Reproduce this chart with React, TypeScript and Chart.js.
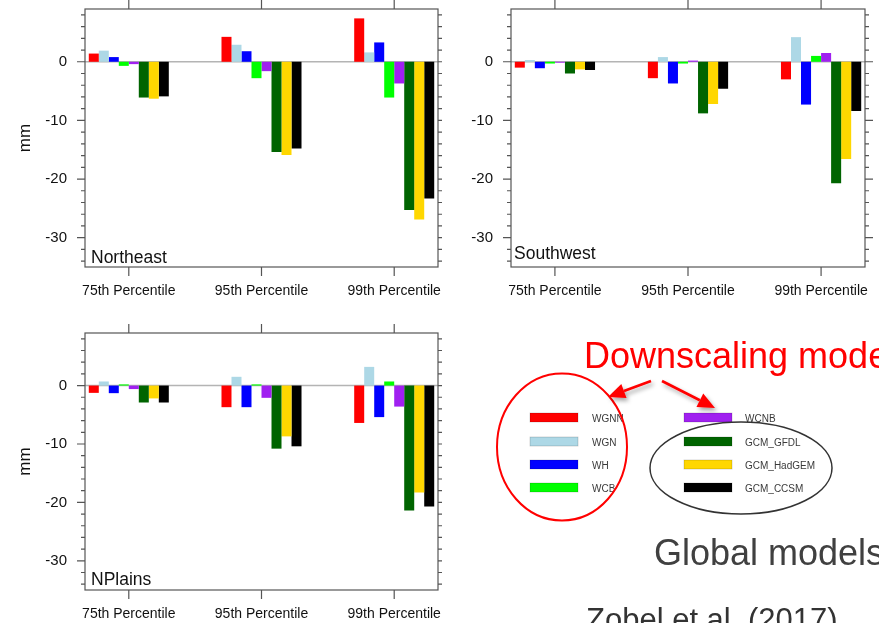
import React, { useEffect, useRef } from 'react';
import { Chart, registerables } from 'chart.js';

Chart.register(...registerables);
Chart.defaults.font.family = '"Liberation Sans", Arial, Helvetica, sans-serif';

// ---------- data ----------
const percentiles = ['75th Percentile', '95th Percentile', '99th Percentile'];
const percentilePositions = [1, 2, 3];

const seriesNames = ['WGNN', 'WGN', 'WH', 'WCB', 'WCNB', 'GCM_GFDL', 'GCM_HadGEM', 'GCM_CCSM'];
const seriesColors = ['#FF0000', '#ADD8E6', '#0000FF', '#00FF00', '#A020F0', '#006400', '#FFD700', '#000000'];

// rows = series (same order as seriesNames), columns = percentiles
const northeastValues = [
  [1.4, 4.25, 7.4],
  [1.9, 2.9, 1.6],
  [0.8, 1.8, 3.3],
  [-0.7, -2.8, -6.1],
  [-0.4, -1.6, -3.7],
  [-6.1, -15.4, -25.3],
  [-6.3, -15.9, -26.9],
  [-5.9, -14.8, -23.3],
];
const southwestValues = [
  [-1.0, -2.8, -3.0],
  [0.3, 0.8, 4.2],
  [-1.1, -3.7, -7.3],
  [-0.3, -0.3, 1.0],
  [-0.15, 0.2, 1.5],
  [-2.0, -8.8, -20.7],
  [-1.3, -7.2, -16.6],
  [-1.4, -4.6, -8.4],
];
const nplainsValues = [
  [-1.25, -3.7, -6.4],
  [0.7, 1.5, 3.2],
  [-1.3, -3.7, -5.4],
  [0.2, 0.2, 0.7],
  [-0.6, -2.1, -3.6],
  [-2.9, -10.8, -21.4],
  [-2.2, -8.7, -18.3],
  [-2.9, -10.4, -20.7],
];

const yMin = -35;
const yMax = 9;
const xMin = 0.67;
const xMax = 3.33;
const yLabelTicks = [-30, -20, -10, 0];
const yMinorTicks = [-34, -32, -30, -28, -26, -24, -22, -20, -18, -16, -14, -12, -10, -8, -6, -4, -2, 0, 2, 4, 6, 8];

const FONT = '"Liberation Sans", Arial, Helvetica, sans-serif';

type PanelProps = {
  left: number; top: number; width: number; height: number;
  chartLeft: number; chartRight: number; chartTop: number; chartBottom: number;
  values: number[][]; label: string; labelDx: number; labelDy: number; showTitle: boolean;
};

function Panel(p: PanelProps) {
  const ref = useRef<HTMLCanvasElement>(null);
  useEffect(() => {
    const framePlugin = {
      id: 'frame',
      beforeDatasetsDraw(chart: any) {
        const { ctx, chartArea: a, scales } = chart;
        const y0 = scales.y.getPixelForValue(0);
        ctx.save();
        ctx.strokeStyle = '#b4b4b4';
        ctx.lineWidth = 1.5;
        ctx.beginPath();
        ctx.moveTo(a.left, y0);
        ctx.lineTo(a.right, y0);
        ctx.stroke();
        ctx.restore();
      },
      afterDatasetsDraw(chart: any) {
        const { ctx, chartArea: a, scales } = chart;
        const x = scales.x, y = scales.y;
        ctx.save();
        ctx.strokeStyle = '#555';
        ctx.lineWidth = 1.2;
        ctx.strokeRect(a.left, a.top, a.right - a.left, a.bottom - a.top);
        ctx.beginPath();
        for (const v of yMinorTicks) {
          const py = y.getPixelForValue(v);
          ctx.moveTo(a.left - 4, py); ctx.lineTo(a.left, py);
          ctx.moveTo(a.right, py); ctx.lineTo(a.right + 4, py);
        }
        for (const v of yLabelTicks) {
          const py = y.getPixelForValue(v);
          ctx.moveTo(a.left - 8, py); ctx.lineTo(a.left, py);
          ctx.moveTo(a.right, py); ctx.lineTo(a.right + 8, py);
        }
        for (const v of percentilePositions) {
          const px = x.getPixelForValue(v);
          ctx.moveTo(px, a.top - 9); ctx.lineTo(px, a.top);
          ctx.moveTo(px, a.bottom); ctx.lineTo(px, a.bottom + 9);
        }
        ctx.stroke();
        ctx.font = `17.5px ${FONT}`;
        ctx.fillStyle = '#111';
        ctx.textBaseline = 'alphabetic';
        ctx.textAlign = 'left';
        ctx.fillText(p.label, a.left + p.labelDx, a.bottom - p.labelDy);
        ctx.restore();
      },
    };

    const zeroPad = (s: any) => {
      s.paddingLeft = 0; s.paddingRight = 0; s.paddingTop = 0; s.paddingBottom = 0;
    };

    const chart = new Chart(ref.current as HTMLCanvasElement, {
      type: 'bar',
      data: {
        datasets: seriesNames.map((name, i) => ({
          label: name,
          data: percentilePositions.map((xv, j) => ({ x: xv, y: p.values[i][j] })),
          backgroundColor: seriesColors[i],
          borderWidth: 0,
          categoryPercentage: 0.603,
          barPercentage: 1,
        })),
      },
      options: {
        responsive: false,
        animation: false,
        devicePixelRatio: 1,
        layout: { padding: { top: p.chartTop, right: p.width - p.chartRight, left: 0, bottom: 0 } },
        plugins: { legend: { display: false }, tooltip: { enabled: false } },
        scales: {
          x: {
            type: 'linear',
            min: xMin,
            max: xMax,
            bounds: 'data',
            offset: false,
            grid: { display: false, drawTicks: false },
            border: { display: false },
            afterBuildTicks: (s: any) => { s.ticks = percentilePositions.map((v) => ({ value: v })); },
            afterFit: (s: any) => { s.height = p.height - p.chartBottom; zeroPad(s); },
            ticks: {
              autoSkip: false,
              maxRotation: 0,
              minRotation: 0,
              padding: 16,
              color: '#111',
              font: { size: 14 },
              callback: (v: any) => percentiles[percentilePositions.indexOf(Number(v))] ?? '',
            },
          },
          y: {
            type: 'linear',
            min: yMin,
            max: yMax,
            bounds: 'data',
            grid: { display: false, drawTicks: false },
            border: { display: false },
            afterBuildTicks: (s: any) => { s.ticks = yLabelTicks.map((v) => ({ value: v })); },
            afterFit: (s: any) => { s.width = p.chartLeft; zeroPad(s); },
            ticks: { autoSkip: false, padding: 18, color: '#111', font: { size: 15 } },
            title: {
              display: p.showTitle,
              text: 'mm',
              color: '#111',
              font: { size: 17 },
              padding: { top: 15, bottom: 0 },
            },
          },
        },
      } as any,
      plugins: [framePlugin],
    });
    return () => chart.destroy();
  }, []);
  return (
    <canvas
      ref={ref}
      width={p.width}
      height={p.height}
      style={{ position: 'absolute', left: p.left, top: p.top, width: p.width, height: p.height }}
    />
  );
}

function Arrow({ x1, y1, x2, y2 }: { x1: number; y1: number; x2: number; y2: number }) {
  const dx = x2 - x1, dy = y2 - y1;
  const len = Math.hypot(dx, dy);
  const ux = dx / len, uy = dy / len;
  const hl = 17, hw = 15;
  const bx = x2 - ux * hl, by = y2 - uy * hl;
  const nx = -uy, ny = ux;
  const pts = `${x2},${y2} ${bx + nx * hw / 2},${by + ny * hw / 2} ${bx - nx * hw / 2},${by - ny * hw / 2}`;
  return (
    <g filter="url(#shadow)">
      <line x1={x1} y1={y1} x2={bx} y2={by} stroke="#FF0000" strokeWidth={2.6} />
      <polygon points={pts} fill="#FF0000" />
    </g>
  );
}

function Overlay() {
  const rowTops = [413, 437, 460, 483];
  const leftCol = [0, 1, 2, 3];
  const rightCol = [4, 5, 6, 7];
  return (
    <svg width={879} height={623} style={{ position: 'absolute', left: 0, top: 0 }} fontFamily={FONT}>
      <defs>
        <filter id="shadow" x="-50%" y="-50%" width="200%" height="200%">
          <feDropShadow dx="2" dy="3" stdDeviation="2" floodColor="#000" floodOpacity="0.35" />
        </filter>
      </defs>
      <text x={584} y={368} fontSize={36} fill="#FF0000">Downscaling models</text>
      {leftCol.map((si, r) => (
        <g key={si}>
          <rect x={530} y={rowTops[r]} width={48} height={9} fill={seriesColors[si]} stroke="rgba(0,0,0,0.2)" strokeWidth={0.8} />
          <text x={592} y={rowTops[r] + 8.5} fontSize={10} fill="#3a3a3a">{seriesNames[si]}</text>
        </g>
      ))}
      {rightCol.map((si, r) => (
        <g key={si}>
          <rect x={684} y={rowTops[r]} width={48} height={9} fill={seriesColors[si]} stroke="rgba(0,0,0,0.2)" strokeWidth={0.8} />
          <text x={745} y={rowTops[r] + 8.5} fontSize={10} fill="#3a3a3a">{seriesNames[si]}</text>
        </g>
      ))}
      <ellipse cx={562} cy={447} rx={65} ry={73.5} fill="none" stroke="#FF0000" strokeWidth={2} />
      <ellipse cx={741} cy={468} rx={91} ry={46} fill="none" stroke="#333" strokeWidth={1.5} />
      <Arrow x1={651} y1={381} x2={608} y2={397} />
      <Arrow x1={662} y1={381} x2={715} y2={408} />
      <text x={654} y={565} fontSize={36} fill="#404040">Global models</text>
      <text x={586} y={630} fontSize={31} fill="#333">Zobel et al. (2017)</text>
    </svg>
  );
}

export default function App() {
  return (
    <div style={{ position: 'fixed', left: 0, top: 0, width: 879, height: 623, overflow: 'hidden', background: '#fff' }}>
      <Panel left={0} top={0} width={442} height={310} chartLeft={85} chartRight={438} chartTop={9} chartBottom={267}
        values={northeastValues} label="Northeast" labelDx={6} labelDy={4} showTitle={true} />
      <Panel left={442} top={0} width={437} height={310} chartLeft={69} chartRight={423} chartTop={9} chartBottom={267}
        values={southwestValues} label="Southwest" labelDx={3} labelDy={8} showTitle={false} />
      <Panel left={0} top={310} width={442} height={313} chartLeft={85} chartRight={438} chartTop={23} chartBottom={280}
        values={nplainsValues} label="NPlains" labelDx={6} labelDy={5} showTitle={true} />
      <Overlay />
    </div>
  );
}
